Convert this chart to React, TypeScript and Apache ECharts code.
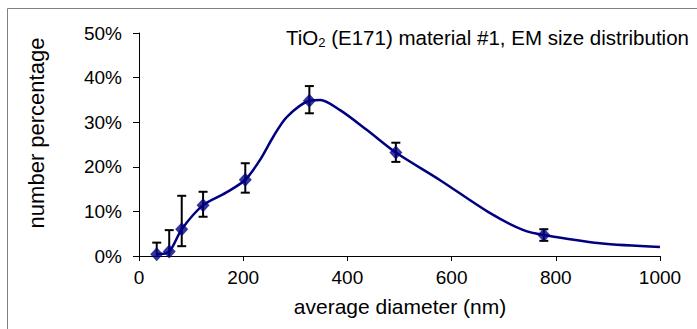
import React, { useEffect, useRef } from "react";
import * as echarts from "echarts";

const xValues = [34, 58, 82, 123, 204, 327, 493, 777];
const yValues = [0.4, 1.0, 6.0, 11.4, 17.1, 34.8, 23.2, 4.7];
const errLow = [0, 0, 2.2, 8.8, 14.2, 32.0, 21.1, 3.4];
const errHigh = [3.0, 5.8, 13.5, 14.4, 20.8, 38.1, 25.4, 6.0];
// fitted curve, positions
const curveX = [34, 58, 82, 123, 167, 204, 232, 258, 284, 327, 348, 386, 437, 493, 578, 674, 738, 777, 885, 1000];
const curveY = [0.4, 1.0, 6.0, 11.4, 14.2, 17.1, 21.5, 26.8, 31.2, 34.8, 35.0, 32.7, 28.3, 23.2, 17.0, 9.6, 5.8, 4.7, 2.85, 2.0];

const xTickMin = 0;
const xTickMax = 1000;
const xTickStep = 200;
const yTickMin = 0;
const yTickMax = 50;
const yTickStep = 10;

const titleMain = "TiO";
const titleSub = "2";
const titleRest = " (E171) material #1, EM size distribution";
const xAxisName = "average diameter (nm)";
const yAxisName = "number percentage";

const FONT = "Liberation Sans, Arial, sans-serif";
const NAVY = "#000080";

export default function App() {
  const ref = useRef<HTMLDivElement>(null);

  useEffect(() => {
    if (!ref.current) return;
    const chart = echarts.init(ref.current, null, { renderer: "svg" });

    const points = xValues.map((x, i) => [x, yValues[i]]);
    const curve = curveX.map((x, i) => [x, curveY[i]]);
    const bars = xValues.map((x, i) => [x, errLow[i], errHigh[i]]);

    chart.setOption({
      animation: false,
      backgroundColor: "#ffffff",
      grid: { left: 139, right: 37, top: 33, bottom: 73, containLabel: false },
      xAxis: {
        type: "value",
        min: xTickMin,
        max: xTickMax,
        interval: xTickStep,
        axisLine: { show: true, lineStyle: { color: "#000", width: 1 } },
        axisTick: { show: true, inside: false, length: 5, lineStyle: { color: "#000" } },
        axisLabel: {
          fontSize: 19,
          color: "#000",
          fontFamily: FONT,
          margin: 12,
          formatter: (v: number) => String(v),
        },
        splitLine: { show: false },
      },
      yAxis: {
        type: "value",
        min: yTickMin,
        max: yTickMax,
        interval: yTickStep,
        axisLine: { show: true, lineStyle: { color: "#000", width: 1 } },
        axisTick: { show: true, inside: false, length: 6, lineStyle: { color: "#000" } },
        axisLabel: {
          fontSize: 19,
          color: "#000",
          fontFamily: FONT,
          margin: 17,
          formatter: "{value}%",
        },
        splitLine: { show: false },
      },
      graphic: [
        {
          type: "line",
          shape: { x1: 7.5, y1: 8.5, x2: 7.5, y2: 329 },
          style: { stroke: "#808080", lineWidth: 1 },
        },
        {
          type: "line",
          shape: { x1: 7.5, y1: 8.5, x2: 697, y2: 8.5 },
          style: { stroke: "#808080", lineWidth: 1 },
        },
        {
          type: "text",
          x: 286,
          y: 25,
          style: {
            text: `{n|${titleMain}}{s|${titleSub}}{n|${titleRest}}`,
            rich: {
              n: { fontSize: 20.5, fontFamily: FONT, fill: "#000", lineHeight: 24 },
              s: {
                fontSize: 13,
                fontFamily: FONT,
                fill: "#000",
                lineHeight: 13,
                verticalAlign: "bottom",
              },
            },
          },
        },
        {
          type: "text",
          x: 400,
          y: 306,
          style: {
            text: xAxisName,
            font: `21px ${FONT}`,
            fill: "#000",
            textAlign: "center",
            textVerticalAlign: "middle",
          },
        },
        {
          type: "text",
          x: 36,
          y: 133,
          rotation: Math.PI / 2,
          style: {
            text: yAxisName,
            font: `22px ${FONT}`,
            fill: "#000",
            textAlign: "center",
            textVerticalAlign: "middle",
          },
        },
      ],
      series: [
        {
          type: "custom",
          z: 2,
          data: bars,
          encode: { x: 0, y: [1, 2] },
          renderItem: (params: any, api: any) => {
            const x = api.value(0);
            const lo = api.value(1);
            const hi = api.value(2);
            const pLo = api.coord([x, lo]);
            const pHi = api.coord([x, hi]);
            const hw = 4.5;
            const st = { stroke: "#000", lineWidth: 2 };
            const children: any[] = [
              { type: "line", shape: { x1: pLo[0], y1: pLo[1], x2: pHi[0], y2: pHi[1] }, style: st },
              { type: "line", shape: { x1: pHi[0] - hw, y1: pHi[1], x2: pHi[0] + hw, y2: pHi[1] }, style: st },
            ];
            if (lo > 0) {
              children.push({
                type: "line",
                shape: { x1: pLo[0] - hw, y1: pLo[1], x2: pLo[0] + hw, y2: pLo[1] },
                style: st,
              });
            }
            return { type: "group", children };
          },
        },
        {
          type: "line",
          z: 3,
          data: curve,
          smooth: 0.3,
          showSymbol: false,
          symbol: "none",
          lineStyle: { color: NAVY, width: 2.5 },
        },
        {
          type: "scatter",
          z: 4,
          data: points,
          symbol: "diamond",
          symbolSize: [13, 14],
          itemStyle: { color: NAVY },
        },
      ],
    });

    return () => chart.dispose();
  }, []);

  return (
    <div
      ref={ref}
      style={{ position: "fixed", left: 0, top: 0, width: 697, height: 329, background: "#fff" }}
    />
  );
}
